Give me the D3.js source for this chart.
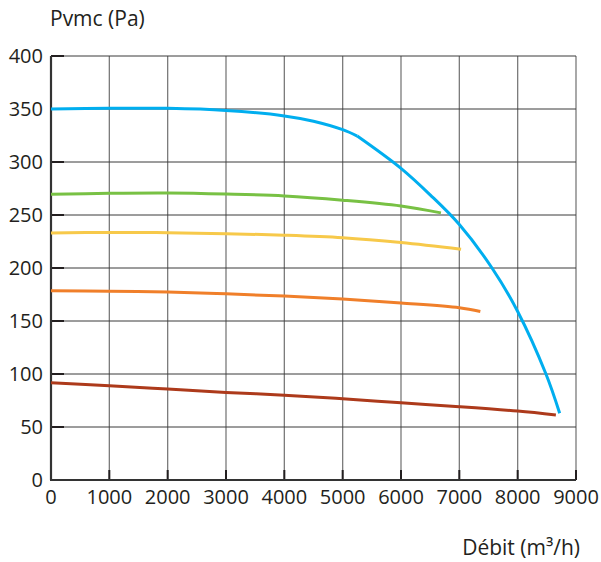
<!DOCTYPE html>
<html>
<head>
<meta charset="utf-8">
<script src="https://cdn.jsdelivr.net/npm/d3@7"></script>
<style>
  body { margin: 0; background: #fff; }
  text { font-family: "Open Sans", "Noto Sans", sans-serif; fill: #231f20; }
</style>
</head>
<body>
<div id="chart"></div>
<script>
const xTicks = [0, 1000, 2000, 3000, 4000, 5000, 6000, 7000, 8000, 9000];
const yTicks = [0, 50, 100, 150, 200, 250, 300, 350, 400];

// blue curve is drawn in two parts so the knee near 5250 stays sharp
const blueTop = [[0, 350], [1000, 350.7], [2000, 350.6], [3000, 348.6], [4000, 343.5], [4500, 338.5],
  [5000, 330.5], [5250, 324.5]];
const blueDrop = [[5250, 324.5], [6000, 294], [6500, 269], [7000, 241], [7560, 200], [8000, 159],
  [8485, 100], [8720, 63]];
const greenCurve = [[0, 269.5], [1000, 270.5], [2000, 270.8], [3000, 269.8], [4000, 268], [5000, 264],
  [6000, 258.5], [6685, 252]];
const yellowCurve = [[0, 233], [1000, 233.6], [2000, 233.3], [3000, 232.4], [4000, 231], [5000, 228.6],
  [6000, 224], [7030, 217.6]];
const orangeCurve = [[0, 178.6], [1000, 178], [2000, 177.3], [3000, 175.6], [4000, 173.6], [5000, 170.7],
  [6000, 167], [7000, 162.5], [7360, 159]];
const brownCurve = [[0, 91.8], [1000, 89], [2000, 85.8], [3000, 82.6], [4000, 80], [5000, 76.6],
  [6000, 72.8], [7000, 69.2], [8000, 65], [8655, 61.3]];

const series = [
  { name: "brown", color: "#ad3a1b", values: brownCurve },
  { name: "orange", color: "#f07f2a", values: orangeCurve },
  { name: "yellow", color: "#f7c94a", values: yellowCurve },
  { name: "green", color: "#78c144", values: greenCurve },
  { name: "blue-top", color: "#00aeef", values: blueTop },
  { name: "blue-drop", color: "#00aeef", values: blueDrop }
];

const width = 601, height = 562;
const margin = { top: 56, right: 25, bottom: 82, left: 51 };
const innerW = width - margin.left - margin.right,
  innerH = height - margin.top - margin.bottom;

const svg = d3.select("#chart").append("svg")
  .attr("width", width).attr("height", height);

const g = svg.append("g")
  .attr("transform", "translate(" + margin.left + "," + margin.top + ")");

const x = d3.scaleLinear().domain([0, 9000]).range([0, innerW]);
const y = d3.scaleLinear().domain([0, 400]).range([innerH, 0]);

// grid
g.append("g").selectAll("line").data(xTicks.slice(1)).join("line")
  .attr("x1", d => x(d)).attr("x2", d => x(d))
  .attr("y1", 0).attr("y2", innerH)
  .attr("stroke", "#7a7a7a").attr("stroke-width", 1.3);
g.append("g").selectAll("line").data(yTicks.slice(1)).join("line")
  .attr("x1", 0).attr("x2", innerW)
  .attr("y1", d => y(d)).attr("y2", d => y(d))
  .attr("stroke", "#3a3a3a").attr("stroke-width", 1);

// inner tick stubs
g.append("g").selectAll("line").data(yTicks.slice(1)).join("line")
  .attr("x1", 0).attr("x2", 13)
  .attr("y1", d => y(d)).attr("y2", d => y(d))
  .attr("stroke", "#231f20").attr("stroke-width", 2);
g.append("g").selectAll("line").data(xTicks.slice(1)).join("line")
  .attr("x1", d => x(d)).attr("x2", d => x(d))
  .attr("y1", innerH).attr("y2", innerH - 10)
  .attr("stroke", "#231f20").attr("stroke-width", 2);

// axes lines
g.append("line").attr("x1", 0).attr("x2", 0).attr("y1", 0).attr("y2", innerH)
  .attr("stroke", "#333").attr("stroke-width", 2.2);
g.append("line").attr("x1", -1).attr("x2", innerW).attr("y1", innerH).attr("y2", innerH)
  .attr("stroke", "#333").attr("stroke-width", 2.2);

// curves
const line = d3.line()
  .x(d => x(d[0])).y(d => y(d[1]))
  .curve(d3.curveCatmullRom.alpha(0.5));

g.append("g").selectAll("path").data(series).join("path")
  .attr("d", d => line(d.values))
  .attr("fill", "none")
  .attr("stroke", d => d.color)
  .attr("stroke-width", 3)
  .attr("stroke-linejoin", "round");

// tick labels
g.append("g").selectAll("text").data(yTicks).join("text")
  .attr("x", -8).attr("y", d => y(d)).attr("dy", "0.36em")
  .attr("text-anchor", "end")
  .attr("font-size", 20)
  .text(d => d);
g.append("g").selectAll("text").data(xTicks).join("text")
  .attr("x", d => x(d)).attr("y", innerH + 24)
  .attr("text-anchor", "middle")
  .attr("font-size", 20)
  .text(d => d);

// axis titles
svg.append("text").attr("x", 50).attr("y", 26)
  .attr("font-size", 21).text("Pvmc (Pa)");
svg.append("text").attr("x", 580).attr("y", 555)
  .attr("text-anchor", "end")
  .attr("font-size", 21).text("Débit (m³/h)");
</script>
</body>
</html>
